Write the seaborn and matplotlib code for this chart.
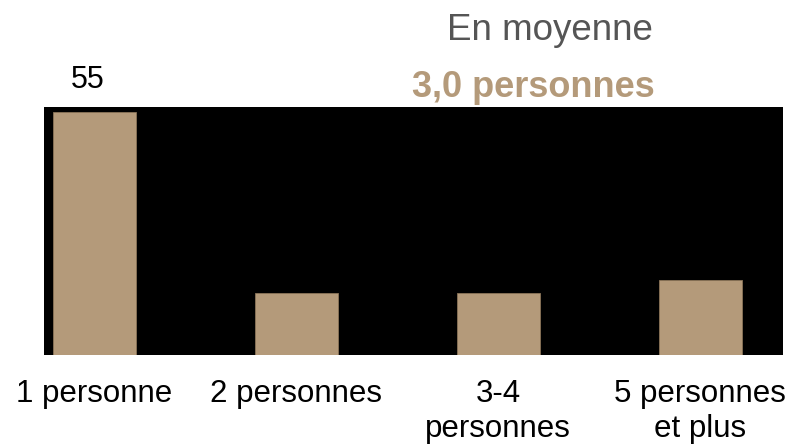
import matplotlib
matplotlib.use("Agg")
import matplotlib.pyplot as plt
import seaborn as sns
import pandas as pd

categories = ["1 personne", "2 personnes", "3-4\npersonnes", "5 personnes\net plus"]
values = [55, 14, 14, 17]
label_value = 55
mean_title = "En moyenne"
mean_value = "3,0 personnes"

bar_color = "#B49A7A"
sns.set_theme(style="white")
plt.rcParams["font.family"] = ["Liberation Sans", "DejaVu Sans"]

df = pd.DataFrame({"cat": categories, "val": values})

W, H = 794, 444
fig = plt.figure(figsize=(W / 100, H / 100), dpi=100)
ax = fig.add_axes([0.0554, 0.2005, 0.9307, 0.5585])
ax.set_facecolor("black")

sns.barplot(data=df, x="cat", y="val", color=bar_color, saturation=1,
            width=0.41, edgecolor="#8a7458", linewidth=0.6, ax=ax)

ax.set_xlim(-0.25, 3.41)
ax.set_ylim(0, 56.1)
ax.set_xlabel("")
ax.set_ylabel("")
ax.set_yticks([])
for s in ax.spines.values():
    s.set_visible(False)
ax.tick_params(axis="x", length=0, pad=17, labelsize=22.5, labelcolor="black")
for t in ax.get_xticklabels():
    t.set_linespacing(1.25)
    t.set_verticalalignment("top")

# value label above the first bar
ax.annotate(f"{label_value}", xy=(0, values[0]), xytext=(-5, 17.5),
            textcoords="offset points", ha="center", va="baseline",
            fontsize=22, color="black", annotation_clip=False)

fig.text(653 / W, 1 - 40 / H, mean_title, ha="right", va="baseline",
         fontsize=26.5, color="#555555")
fig.text(655 / W, 1 - 97 / H, mean_value, ha="right", va="baseline",
         fontsize=26, color=bar_color, fontweight="bold")

fig.savefig("out.png", dpi=100, facecolor="white")
